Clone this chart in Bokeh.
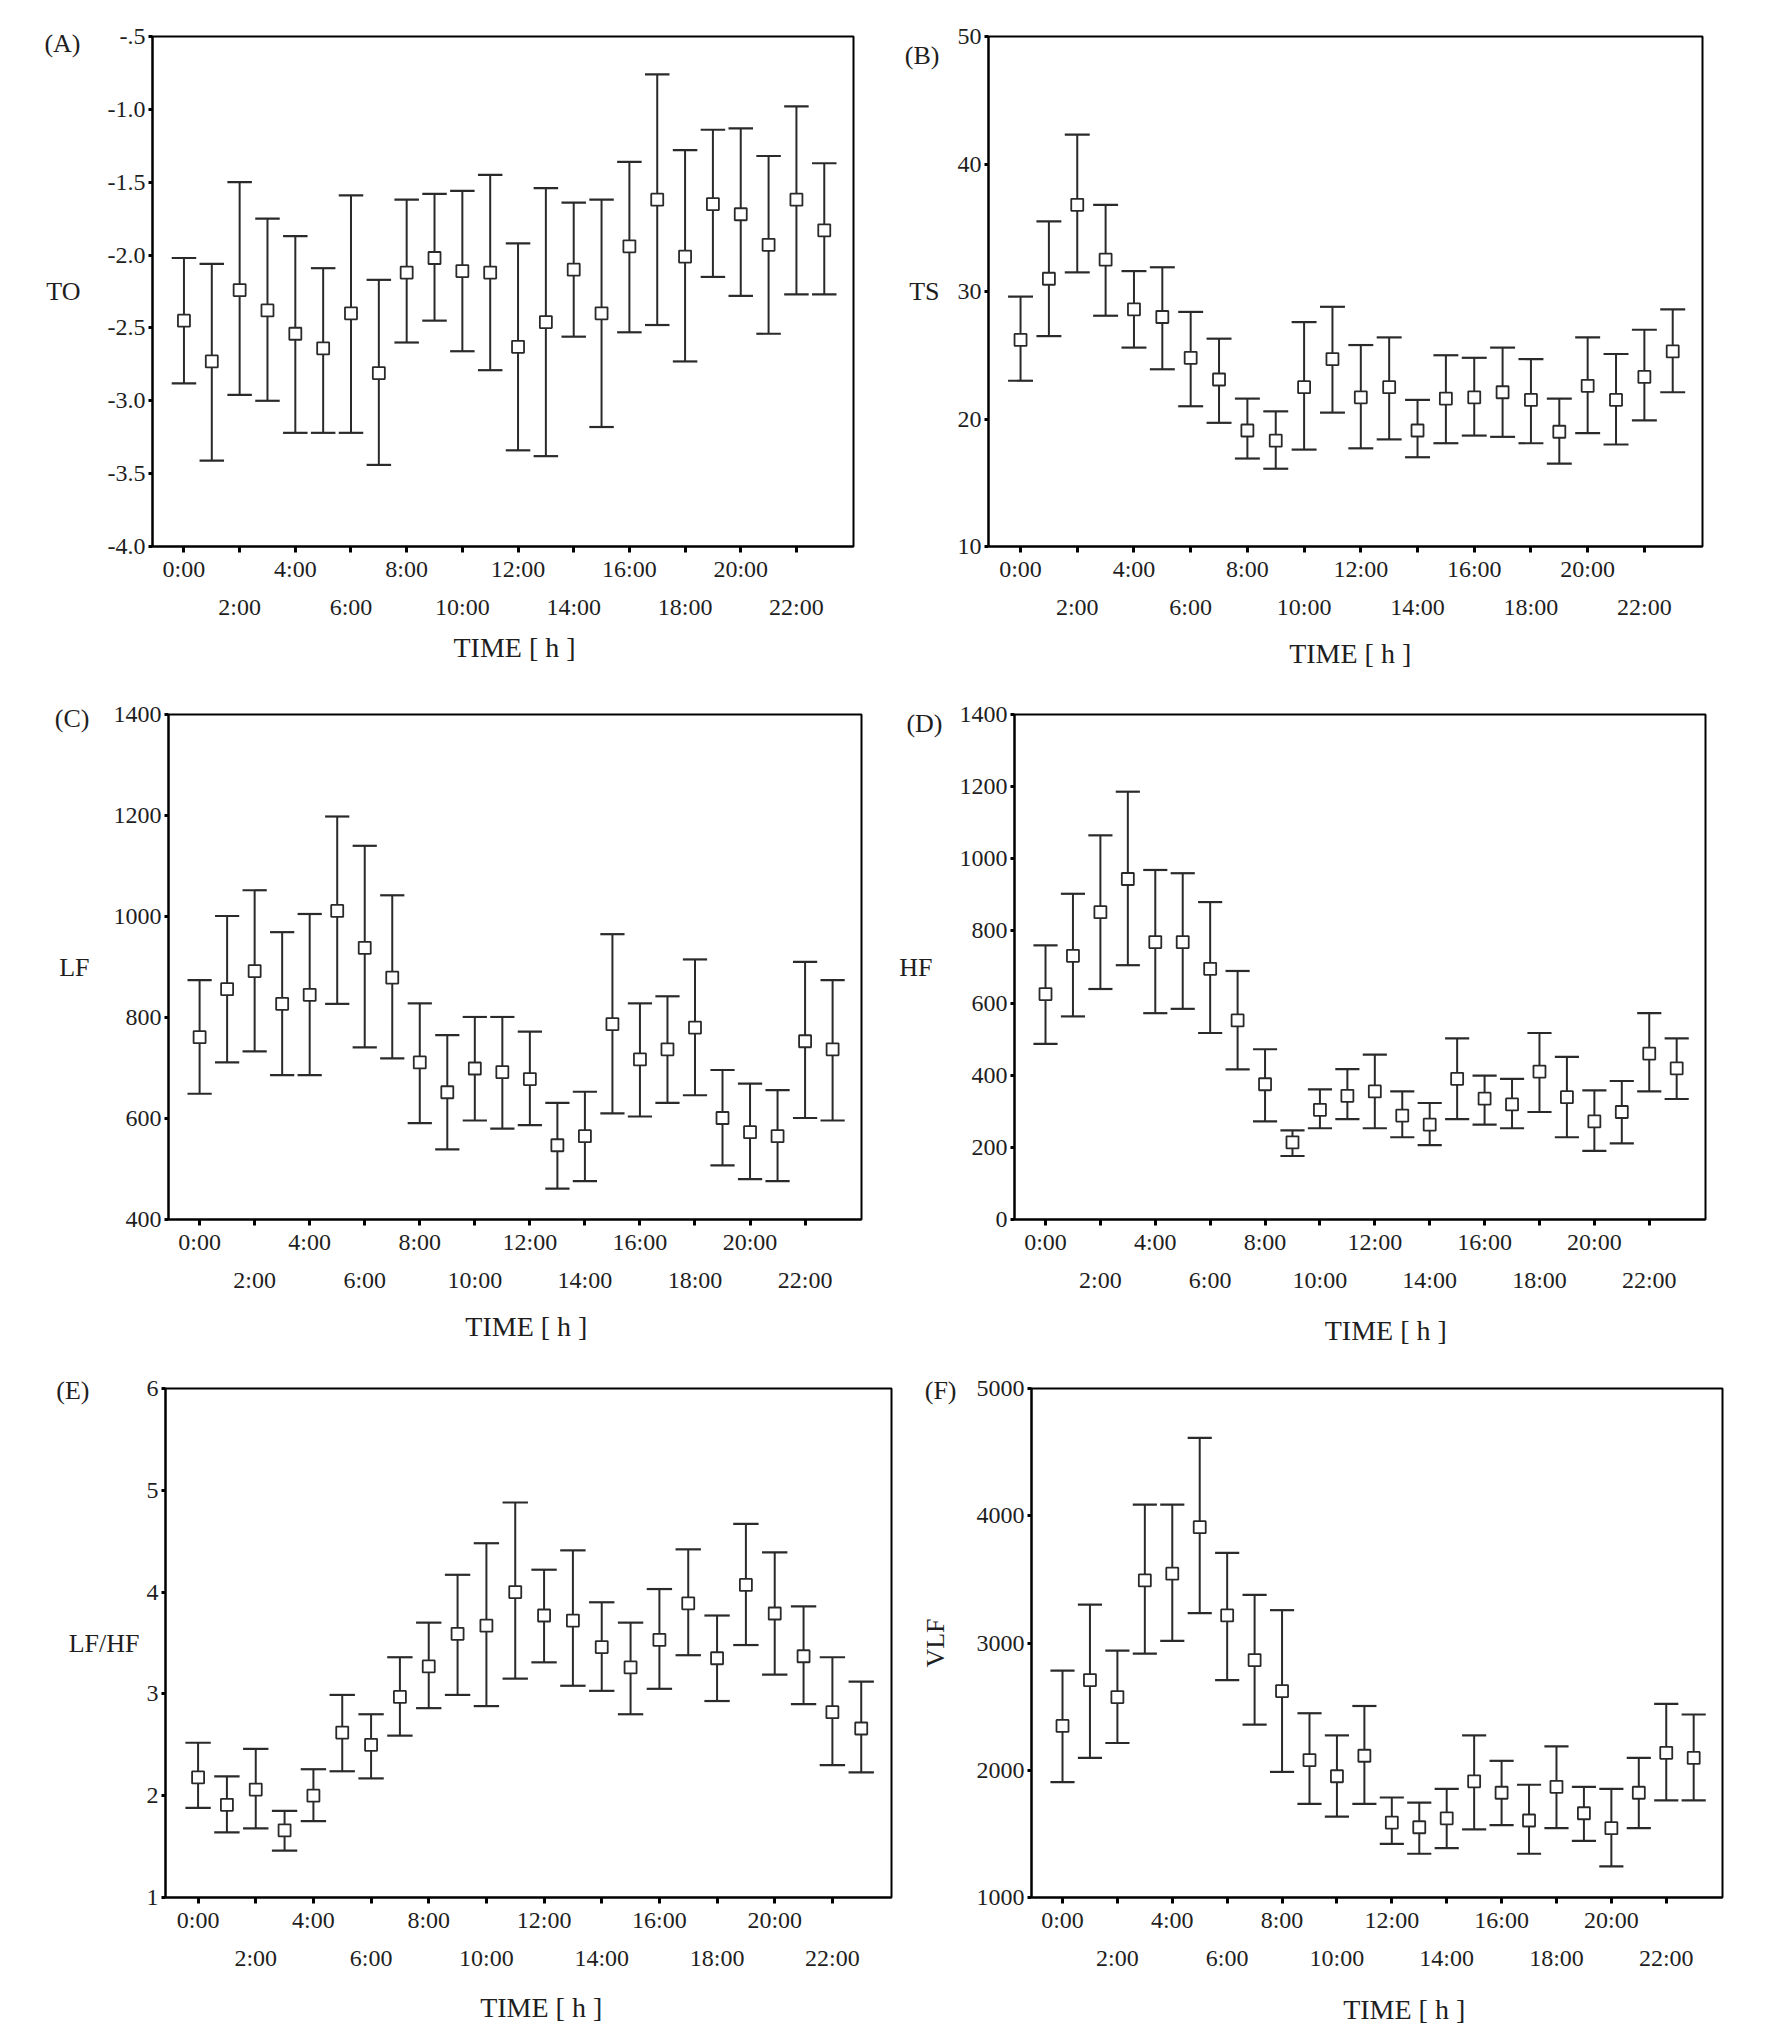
from bokeh.plotting import figure
from bokeh.layouts import column, row
from bokeh.models import Range1d, FixedTicker, LinearAxis
from bokeh.embed import file_html
from bokeh.resources import INLINE

# ---------------- data ----------------
hours = list(range(24))
tick_hours = list(range(0, 24, 2))
tick_row1 = [0, 4, 8, 12, 16, 20]
tick_row2 = [2, 6, 10, 14, 18, 22]
tick_text = {h: f"{h}:00" for h in tick_hours}

to_mean = [-2.45, -2.73, -2.24, -2.38, -2.54, -2.64, -2.40, -2.81, -2.12, -2.02, -2.11, -2.12,
           -2.63, -2.46, -2.10, -2.40, -1.94, -1.62, -2.01, -1.65, -1.72, -1.93, -1.62, -1.83]
to_upper = [-2.02, -2.06, -1.50, -1.75, -1.87, -2.09, -1.59, -2.17, -1.62, -1.58, -1.56, -1.45,
            -1.92, -1.54, -1.64, -1.62, -1.36, -0.76, -1.28, -1.14, -1.13, -1.32, -0.98, -1.37]
to_lower = [-2.88, -3.41, -2.96, -3.00, -3.22, -3.22, -3.22, -3.44, -2.60, -2.45, -2.66, -2.79,
            -3.34, -3.38, -2.56, -3.18, -2.53, -2.48, -2.73, -2.15, -2.28, -2.54, -2.27, -2.27]
to_yticks = [-4.0, -3.5, -3.0, -2.5, -2.0, -1.5, -1.0, -0.5]
to_ylabels = ["-4.0", "-3.5", "-3.0", "-2.5", "-2.0", "-1.5", "-1.0", "-.5"]

ts_mean = [26.2, 31.0, 36.8, 32.5, 28.6, 28.0, 24.8, 23.1, 19.1, 18.3, 22.5, 24.7,
           21.7, 22.5, 19.1, 21.6, 21.7, 22.1, 21.5, 19.0, 22.6, 21.5, 23.3, 25.3]
ts_upper = [29.6, 35.5, 42.3, 36.8, 31.6, 31.9, 28.4, 26.3, 21.6, 20.6, 27.6, 28.8,
            25.8, 26.4, 21.5, 25.0, 24.8, 25.6, 24.7, 21.6, 26.4, 25.1, 27.0, 28.6]
ts_lower = [23.0, 26.5, 31.5, 28.1, 25.6, 23.9, 21.0, 19.7, 16.9, 16.1, 17.6, 20.5,
            17.7, 18.4, 17.0, 18.1, 18.7, 18.6, 18.1, 16.5, 18.9, 18.0, 19.9, 22.1]
ts_yticks = [10, 20, 30, 40, 50]
ts_ylabels = ["10", "20", "30", "40", "50"]

lf_mean = [761, 856, 892, 827, 845, 1011, 938, 879, 711, 652, 699, 692,
           678, 547, 565, 787, 717, 737, 780, 601, 573, 565, 753, 737]
lf_upper = [874, 1001, 1052, 969, 1005, 1198, 1140, 1042, 828, 765, 801, 801,
            772, 631, 653, 965, 828, 842, 915, 696, 669, 656, 910, 874]
lf_lower = [649, 711, 733, 686, 686, 827, 741, 719, 591, 539, 596, 580,
            587, 461, 476, 610, 604, 631, 646, 507, 480, 476, 601, 596]
lf_yticks = [400, 600, 800, 1000, 1200, 1400]
lf_ylabels = ["400", "600", "800", "1000", "1200", "1400"]

hf_mean = [625, 731, 852, 944, 769, 769, 695, 552, 375, 214, 304, 343,
           355, 288, 263, 390, 335, 319, 410, 339, 272, 298, 460, 419]
hf_upper = [760, 903, 1065, 1186, 969, 960, 880, 689, 472, 247, 361, 417,
            457, 355, 323, 502, 399, 390, 517, 451, 358, 384, 572, 502]
hf_lower = [487, 563, 639, 705, 572, 584, 517, 416, 272, 176, 253, 278,
            253, 228, 206, 278, 263, 253, 298, 228, 190, 211, 355, 334]
hf_yticks = [0, 200, 400, 600, 800, 1000, 1200, 1400]
hf_ylabels = ["0", "200", "400", "600", "800", "1000", "1200", "1400"]

lfhf_mean = [2.18, 1.91, 2.06, 1.66, 2.00, 2.62, 2.50, 2.97, 3.27, 3.59, 3.67, 4.00,
             3.77, 3.72, 3.46, 3.26, 3.53, 3.89, 3.35, 4.07, 3.79, 3.37, 2.82, 2.66]
lfhf_upper = [2.52, 2.19, 2.46, 1.85, 2.26, 2.99, 2.80, 3.36, 3.70, 4.17, 4.48, 4.88,
              4.22, 4.41, 3.90, 3.70, 4.03, 4.42, 3.77, 4.67, 4.39, 3.86, 3.36, 3.12]
lfhf_lower = [1.88, 1.64, 1.68, 1.46, 1.75, 2.24, 2.17, 2.59, 2.86, 2.99, 2.88, 3.15,
              3.31, 3.08, 3.03, 2.80, 3.05, 3.38, 2.93, 3.48, 3.19, 2.90, 2.30, 2.23]
lfhf_yticks = [1, 2, 3, 4, 5, 6]
lfhf_ylabels = ["1", "2", "3", "4", "5", "6"]

vlf_mean = [2348, 2709, 2575, 3492, 3545, 3910, 3217, 2866, 2622, 2080, 1953, 2114,
            1589, 1552, 1622, 1913, 1823, 1605, 1870, 1662, 1545, 1823, 2137, 2097]
vlf_upper = [2783, 3301, 2940, 4087, 4087, 4612, 3709, 3378, 3258, 2448, 2274, 2505,
             1786, 1746, 1853, 2274, 2074, 1886, 2187, 1870, 1853, 2097, 2522, 2438]
vlf_lower = [1906, 2097, 2214, 2916, 3017, 3234, 2709, 2358, 1987, 1736, 1635, 1736,
             1421, 1344, 1388, 1535, 1569, 1344, 1545, 1445, 1244, 1545, 1763, 1763]
vlf_yticks = [1000, 2000, 3000, 4000, 5000]
vlf_ylabels = ["1000", "2000", "3000", "4000", "5000"]

# ---------------- styling ----------------
FONT = "Liberation Serif"
INK = "#1e1e1e"
LINE = "#2a2a2a"
CAP_HALF = 0.44
TICK_FS = "24px"
LAB_FS = "26px"
TIME_FS = "28px"


def style_text_axis(ax):
    ax.axis_line_color = None
    ax.major_tick_line_color = None
    ax.minor_tick_line_color = None
    ax.major_tick_out = 0
    ax.major_tick_in = 0


def make_panel(letter, ylabel, mean, upper, lower, yticks, ylabels,
               width, height, bl, br, bt, bb,
               letter_frac, side_standoff, ylabel_mode, ylabel_standoff,
               time_x, time_standoff, time_text):
    y0, y1 = yticks[0], yticks[-1]
    p = figure(width=width, height=height,
               min_border_left=bl, min_border_right=br,
               min_border_top=bt, min_border_bottom=bb,
               x_range=Range1d(-1.13, 24.05),
               y_range=Range1d(y0, y1),
               x_axis_type=None, y_axis_type=None,
               output_backend="svg", toolbar_location=None)
    p.background_fill_color = "white"
    p.border_fill_color = "white"
    p.outline_line_color = "black"
    p.outline_line_width = 2

    # ---- main y axis
    yax = LinearAxis(ticker=FixedTicker(ticks=yticks),
                     major_label_overrides={t: s for t, s in zip(yticks, ylabels)})
    yax.axis_line_color = "black"
    yax.axis_line_width = 2
    yax.major_tick_out = 4
    yax.major_tick_in = 0
    yax.major_tick_line_width = 3
    yax.major_tick_line_color = "black"
    yax.minor_tick_line_color = None
    yax.major_label_standoff = 3
    yax.major_label_text_font = FONT
    yax.major_label_text_font_size = TICK_FS
    yax.major_label_text_color = INK
    side = {y1 - letter_frac * (y1 - y0): letter}
    if ylabel_mode == "tick":
        side[(y0 + y1) / 2] = ylabel
    else:
        yax.axis_label = ylabel
        yax.axis_label_orientation = ylabel_mode
        yax.axis_label_standoff = ylabel_standoff
        yax.axis_label_text_font = FONT
        yax.axis_label_text_font_size = LAB_FS
        yax.axis_label_text_font_style = "normal"
        yax.axis_label_text_color = INK
    p.add_layout(yax, "left")

    # ---- outer left text axis: panel letter (and y title)
    yax2 = LinearAxis(ticker=FixedTicker(ticks=list(side.keys())),
                      major_label_overrides=side)
    style_text_axis(yax2)
    yax2.major_label_standoff = side_standoff
    yax2.major_label_text_font = FONT
    yax2.major_label_text_font_size = LAB_FS
    yax2.major_label_text_color = INK
    p.add_layout(yax2, "left")

    # ---- x axis: tick marks + first row of labels
    ax1 = LinearAxis(ticker=FixedTicker(ticks=tick_hours),
                     major_label_overrides={h: (tick_text[h] if h in tick_row1 else "")
                                            for h in tick_hours})
    ax1.axis_line_color = "black"
    ax1.axis_line_width = 2
    ax1.major_tick_out = 6
    ax1.major_tick_in = 0
    ax1.major_tick_line_width = 3
    ax1.major_tick_line_color = "black"
    ax1.minor_tick_line_color = None
    ax1.major_label_standoff = 3
    ax1.major_label_text_font = FONT
    ax1.major_label_text_font_size = TICK_FS
    ax1.major_label_text_color = INK
    p.add_layout(ax1, "below")

    # ---- x axis: staggered second row of labels
    ax2 = LinearAxis(ticker=FixedTicker(ticks=tick_row2),
                     major_label_overrides={h: tick_text[h] for h in tick_row2})
    style_text_axis(ax2)
    ax2.major_label_standoff = 9
    ax2.major_label_text_font = FONT
    ax2.major_label_text_font_size = TICK_FS
    ax2.major_label_text_color = INK
    p.add_layout(ax2, "below")

    # ---- x axis title
    ax3 = LinearAxis(ticker=FixedTicker(ticks=[time_x]),
                     major_label_overrides={time_x: time_text})
    style_text_axis(ax3)
    ax3.major_label_standoff = time_standoff
    ax3.major_label_text_font = FONT
    ax3.major_label_text_font_size = TIME_FS
    ax3.major_label_text_color = INK
    p.add_layout(ax3, "below")

    # ---- error bars + means
    p.segment(x0=hours, y0=lower, x1=hours, y1=upper, line_color=LINE, line_width=2)
    xl = [h - CAP_HALF for h in hours]
    xr = [h + CAP_HALF for h in hours]
    p.segment(x0=xl, y0=upper, x1=xr, y1=upper, line_color=LINE, line_width=2.2)
    p.segment(x0=xl, y0=lower, x1=xr, y1=lower, line_color=LINE, line_width=2.2)
    p.scatter(x=hours, y=mean, marker="square", size=12,
              fill_color="white", line_color=LINE, line_width=1.8)
    return p


pA = make_panel("(A)", "TO", to_mean, to_upper, to_lower, to_yticks, to_ylabels,
                896, 680, 152, 43, 36, 134,
                0.014, 24, "tick", 0, 12.0, 9, "TIME  [ h ]")
pB = make_panel("(B)", "TS", ts_mean, ts_upper, ts_lower, ts_yticks, ts_ylabels,
                876, 680, 92, 70, 36, 134,
                0.038, 15, "tick", 0, 11.75, 15, "TIME  [ h ]")
pC = make_panel("(C)", "LF", lf_mean, lf_upper, lf_lower, lf_yticks, lf_ylabels,
                896, 678, 168, 35, 31, 139,
                0.008, 21, "tick", 0, 12.0, 15, "TIME  [ h ]")
pD = make_panel("(D)", "HF", hf_mean, hf_upper, hf_lower, hf_yticks, hf_ylabels,
                876, 678, 115, 67, 34, 136,
                0.018, -46, "horizontal", 24, 12.4, 19, "TIME [ h ]")
pE = make_panel("(E)", "LF/HF", lfhf_mean, lfhf_upper, lfhf_lower, lfhf_yticks, lfhf_ylabels,
                896, 670, 165, 5, 29, 131,
                0.004, -24, "horizontal", 4, 11.9, 18, "TIME [ h ]")
pF = make_panel("(F)", "VLF", vlf_mean, vlf_upper, vlf_lower, vlf_yticks, vlf_ylabels,
                876, 670, 135, 50, 30, 130,
                0.004, -39, "parallel", 24, 12.45, 20, "TIME [ h ]")

layout = column(row(pA, pB), row(pC, pD), row(pE, pF))

with open("out.html", "w") as f:
    f.write(file_html(layout, INLINE))
